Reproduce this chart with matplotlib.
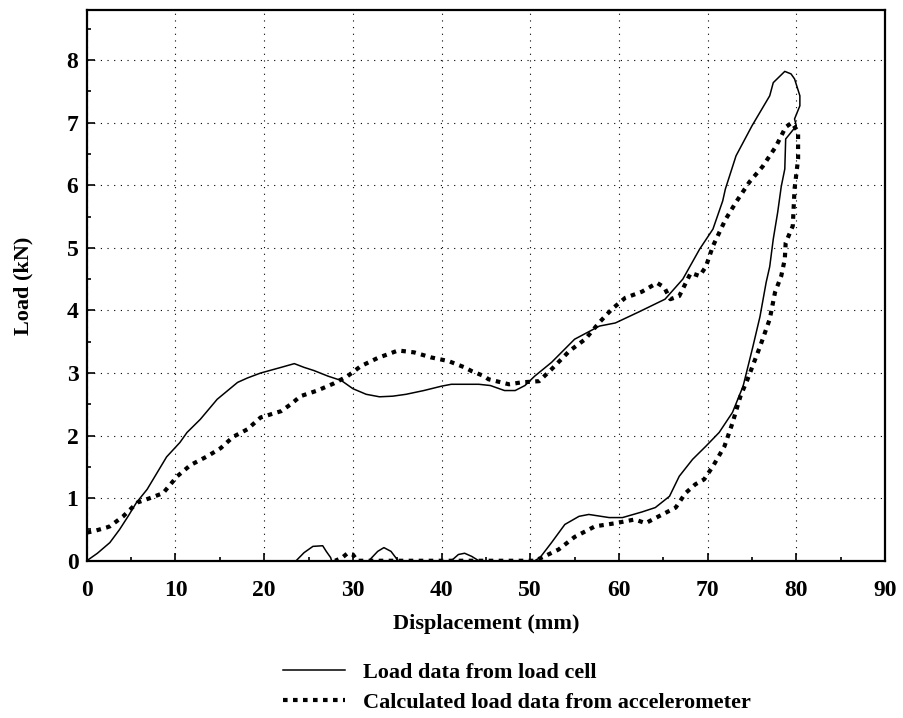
import matplotlib.pyplot as plt
from matplotlib.ticker import MultipleLocator

# load cell trace (loading then unloading)
cell_x = [0, 1.2, 2.6, 3.7, 4.7, 5.6, 6.8, 7.9, 9.0, 10.5, 11.3, 12.8, 14.7, 17.0, 18.1,
          19.6, 21.9, 23.4, 24.5, 25.6, 27.2, 28.7, 30.0, 31.5, 33.0, 34.5, 36.0, 38.0,
          40.0, 41.1, 44.2, 45.5, 47.1, 48.3, 49.4, 50.5, 52.4, 55.0, 57.8, 59.6, 62.3,
          65.2, 67.2, 69.1, 70.6, 71.7, 72.0, 73.2, 75.0, 77.0, 77.4, 78.7, 79.4, 79.8,
          80.4, 80.4, 79.8, 80.0,
          78.8, 78.7, 78.3, 77.9, 77.4, 77.0, 76.6, 75.9, 75.1, 74.0, 72.8, 71.3, 69.8,
          68.3, 66.8, 65.7, 64.1, 62.6, 60.4, 58.9, 56.6, 55.5, 53.9, 52.4, 51.1, 50.5,
          44.2, 43.4, 42.6, 41.9, 41.1, 35.1, 34.3, 33.5, 32.8, 31.8, 27.6, 27.5, 27.0,
          26.6, 25.5, 24.5, 23.6, 22.0]
cell_y = [0, 0.12, 0.29, 0.5, 0.72, 0.93, 1.14, 1.4, 1.66, 1.89, 2.05, 2.26, 2.58, 2.85, 2.92,
          3.0, 3.09, 3.15, 3.09, 3.04, 2.95, 2.88, 2.75, 2.66, 2.62, 2.63, 2.66, 2.72,
          2.79, 2.82, 2.82, 2.8, 2.72, 2.72, 2.8, 2.95, 3.17, 3.54, 3.75, 3.8, 3.98,
          4.18, 4.5, 4.98, 5.3, 5.75, 5.94, 6.47, 6.95, 7.43, 7.64, 7.82, 7.78, 7.7,
          7.43, 7.27, 7.06, 6.95,
          6.74, 6.26, 5.98, 5.57, 5.14, 4.7, 4.45, 3.9, 3.42, 2.79, 2.37, 2.05, 1.83,
          1.62, 1.35, 1.03, 0.85, 0.78, 0.69, 0.69, 0.74, 0.71, 0.58, 0.29, 0.05, 0.0,
          0.0, 0.07, 0.12, 0.1, 0.0, 0.0, 0.15, 0.21, 0.15, 0.0, 0.0, 0.05, 0.15,
          0.24, 0.23, 0.13, 0.0, 0.0]

# load calculated from accelerometer
acc_x = [0, 0.7, 2.2, 2.6, 4.1, 5.7, 7.1, 8.6, 10.2, 11.7, 13.6, 15.1, 16.5, 18.1, 19.6,
         21.9, 23.0, 24.1, 26.0, 27.8, 29.4, 30.9, 32.8, 35.1, 36.9, 38.8, 40.8, 42.6,
         43.4, 44.8, 45.3, 47.6, 49.0, 51.0, 52.4, 54.4, 56.2, 57.8, 59.2, 60.7, 62.6,
         64.3, 65.1, 65.8, 66.8, 68.1, 69.1, 69.8, 70.6, 72.0, 73.2, 74.7, 76.2, 77.7,
         78.8, 79.5,
         80.2, 80.2, 79.8, 79.6, 78.8, 78.7, 78.3, 77.6, 77.0, 75.9, 74.5, 73.7, 72.8,
         71.9, 70.6, 69.6, 68.6, 67.5, 66.4, 64.9, 63.0, 61.8, 59.6, 57.3, 55.0, 53.2,
         51.3, 50.5, 30.5, 30.0, 29.4, 28.8, 28.0]
acc_y = [0.45, 0.47, 0.53, 0.55, 0.71, 0.93, 1.0, 1.08, 1.35, 1.53, 1.67, 1.8, 1.98, 2.1, 2.29,
         2.39, 2.5, 2.63, 2.72, 2.83, 2.95, 3.11, 3.24, 3.36, 3.33, 3.25, 3.19, 3.09,
         3.03, 2.95, 2.9, 2.82, 2.85, 2.87, 3.06, 3.35, 3.54, 3.81, 4.02, 4.2, 4.3,
         4.44, 4.37, 4.18, 4.23, 4.6, 4.55, 4.7, 5.03, 5.45, 5.73, 6.05, 6.3, 6.62,
         6.93, 7.0,
         6.85, 6.42, 5.94, 5.35, 5.08, 4.82, 4.55, 4.29, 3.86, 3.42, 2.9, 2.63, 2.2,
         1.83, 1.51, 1.3, 1.22, 1.08, 0.85, 0.74, 0.6, 0.66, 0.6, 0.55, 0.38, 0.18,
         0.05, 0.0, 0.0, 0.1, 0.12, 0.05, 0.0]

plt.rcParams['font.family'] = ['Liberation Serif', 'DejaVu Serif']
plt.rcParams['font.weight'] = 'bold'

fig = plt.figure(figsize=(9.04, 7.18), dpi=100)
ax = fig.add_axes([0.096, 0.219, 0.883, 0.767])

l1, = ax.plot(cell_x, cell_y, color='black', linewidth=1.1)
l2, = ax.plot(acc_x, acc_y, color='black', linewidth=3.0, linestyle=(0, (1.1, 1.3)))

ax.set_xlim(0, 90)
ax.set_ylim(0, 8.8)
ax.xaxis.set_major_locator(MultipleLocator(10))
ax.xaxis.set_minor_locator(MultipleLocator(5))
ax.yaxis.set_major_locator(MultipleLocator(1))
ax.yaxis.set_minor_locator(MultipleLocator(0.5))
ax.tick_params(which='both', direction='in', labelsize=17, width=1.2)
ax.tick_params(which='major', length=6)
ax.tick_params(which='minor', length=3)
ax.tick_params(axis='x', which='major', pad=14)
ax.tick_params(axis='y', which='major', pad=6)
for s in ax.spines.values():
    s.set_linewidth(1.6)
ax.grid(True, which='major', color='black', linestyle=(0, (1, 5)), linewidth=0.8)

ax.set_xlabel('Displacement (mm)', fontsize=16, fontweight='bold', labelpad=9)
ax.set_ylabel('Load (kN)', fontsize=16, fontweight='bold', labelpad=24)

fig.legend([l1, l2], ['Load data from load cell', 'Calculated load data from accelerometer'],
           loc='upper left', bbox_to_anchor=(0.313, 0.078), frameon=False,
           fontsize=16, handlelength=2.8, handletextpad=0.8, labelspacing=0.45,
           borderaxespad=0, borderpad=0)

fig.savefig('out.png', dpi=100)
